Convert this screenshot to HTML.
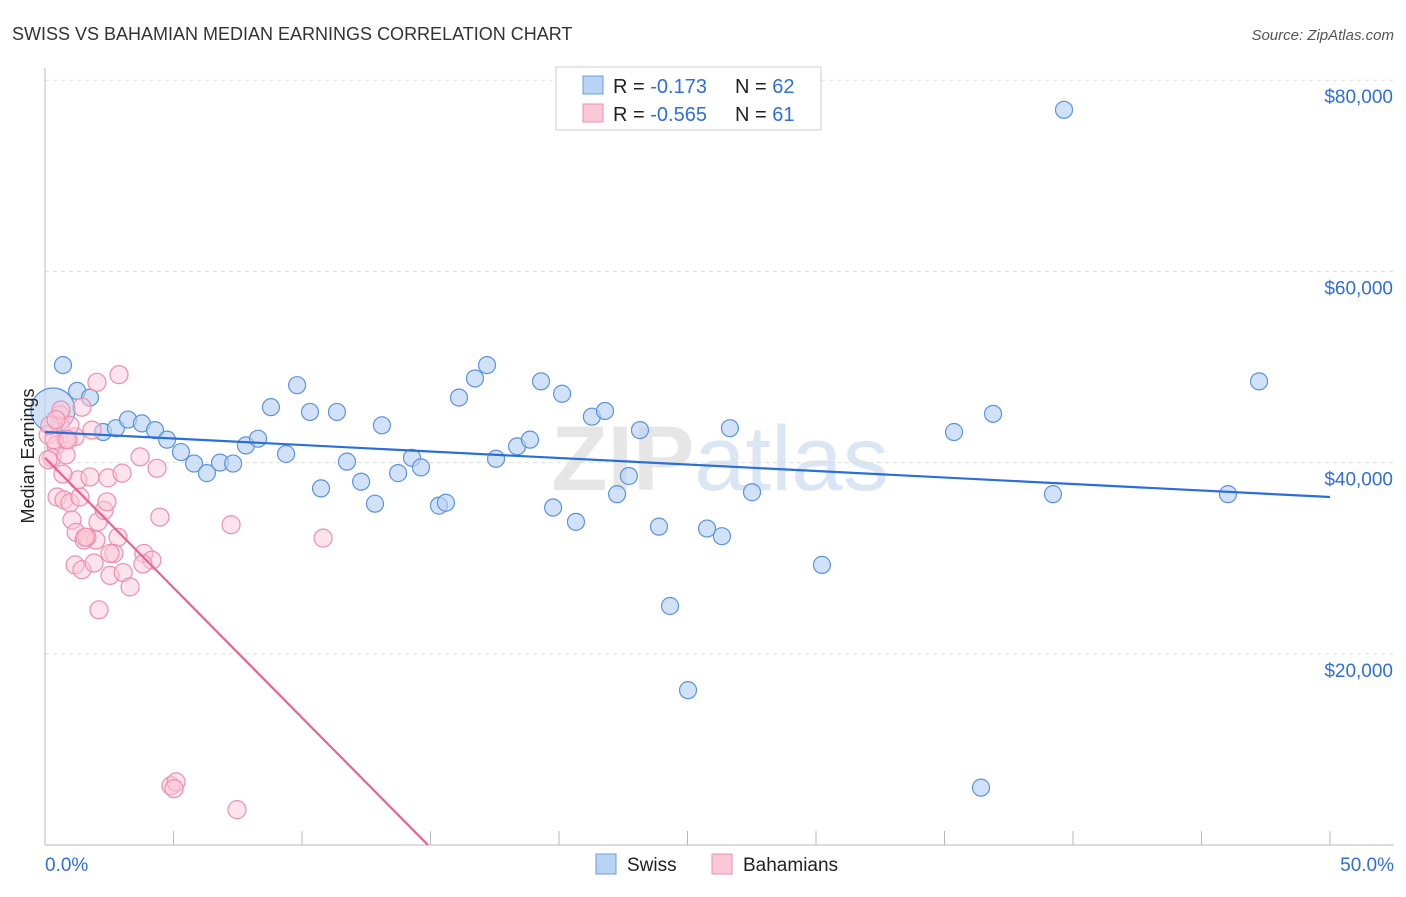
<!DOCTYPE html>
<html><head><meta charset="utf-8"><style>
body{margin:0;background:#fff;font-family:"Liberation Sans",sans-serif;}
svg text{font-family:"Liberation Sans",sans-serif;}
</style></head><body>
<svg id="chart" width="1406" height="892" xmlns="http://www.w3.org/2000/svg">
<text x="12" y="40" font-size="18" fill="#333">SWISS VS BAHAMIAN MEDIAN EARNINGS CORRELATION CHART</text>
<text x="1394" y="40" font-size="15" fill="#555" font-style="italic" text-anchor="end">Source: ZipAtlas.com</text>
<text x="720" y="490" font-size="92" fill="#e6e6e6" text-anchor="middle" font-weight="bold">ZIP<tspan fill="#dbe6f5" font-weight="normal">atlas</tspan></text>
<g id="grid"></g><g id="axes"></g><g id="marks"></g>
<text x="34" y="456" font-size="18" fill="#222" text-anchor="middle" transform="rotate(-90 34 456)">Median Earnings</text>
<g>
<rect x="556" y="67" width="265" height="63" fill="#fff" stroke="#ccc"/>
<rect x="583" y="76" width="20" height="18" fill="#b9d3f5" stroke="#6a9ee0"/>
<rect x="583" y="104" width="20" height="18" fill="#fbc8d7" stroke="#ec8fae"/>
<text x="613" y="93" font-size="20" fill="#222">R = <tspan fill="#2f6fd6">-0.173</tspan><tspan x="735">N = </tspan><tspan fill="#2f6fd6">62</tspan></text>
<text x="613" y="121" font-size="20" fill="#222">R = <tspan fill="#2f6fd6">-0.565</tspan><tspan x="735">N = </tspan><tspan fill="#2f6fd6"> 61</tspan></text>
</g>
<g>
<rect x="596" y="854" width="20" height="20" fill="#b9d3f5" stroke="#6a9ee0"/>
<text x="627" y="871" font-size="19" fill="#222">Swiss</text>
<rect x="712" y="854" width="20" height="20" fill="#fbc8d7" stroke="#ec8fae"/>
<text x="743" y="871" font-size="19" fill="#222">Bahamians</text>
</g>
<text x="45" y="871" font-size="19" fill="#2f6fd6">0.0%</text>
<text x="1394" y="871" font-size="19" fill="#2f6fd6" text-anchor="end">50.0%</text>
</svg>
<script>
const yTicks=[20000,40000,60000,80000];
const yTickLabels=["$20,000","$40,000","$60,000","$80,000"];
const swissX=[0.70,1.25,1.75,0.31,2.26,2.76,3.23,3.77,4.28,4.75,5.29,5.80,6.30,6.81,7.32,7.82,8.29,8.79,9.38,9.81,10.31,10.74,11.36,11.75,12.30,12.84,13.11,13.74,14.28,14.63,15.33,15.60,16.11,16.73,17.20,17.55,18.37,18.87,19.30,19.77,20.12,20.66,21.28,21.79,22.26,22.72,23.15,23.89,24.32,25.02,25.76,26.34,26.65,27.51,30.23,35.37,36.42,36.89,39.22,39.65,46.03,47.24];
const swissY=[50200,47500,46800,45500,43200,43600,44500,44100,43400,42400,41100,39900,38900,40000,39900,41800,42500,45800,40900,48100,45300,37300,45300,40100,38000,35700,43900,38900,40500,39500,35500,35800,46800,48800,50200,40400,41700,42400,48500,35300,47200,33800,44800,45400,36700,38600,43400,33300,25000,16200,33100,32300,43600,36900,29300,43200,6000,45100,36700,76900,36700,48500];
const bahX=[0.58,0.12,0.43,0.27,0.12,0.82,1.17,1.44,2.02,2.88,0.58,0.97,1.83,0.47,0.74,0.97,1.36,1.28,0.70,1.75,2.45,3.00,3.70,4.36,1.05,1.21,1.52,2.06,2.30,2.41,2.84,1.98,1.63,2.68,1.17,1.44,1.91,2.53,3.04,3.31,2.10,3.85,4.16,3.81,4.47,7.24,10.82,4.90,5.10,5.02,7.47,2.53,0.82,0.35,0.19,0.62,0.43,0.89,1.56];
const bahY=[45000,42900,41800,40500,40300,40800,42700,45800,48400,49200,43900,43900,43400,36400,36100,35800,36400,38200,38800,38500,38400,38900,40600,39400,34000,32700,31900,33800,35000,35900,32200,31900,32200,30500,29300,28800,29500,28200,28500,27000,24600,30500,29800,29400,34300,33500,32100,6200,6600,5900,3700,30500,42400,42400,43900,45500,44500,42400,32200];
const swissTrend=[43200,36400];
const bahTrend=[40500,0];
const bahTrendEndX=14.9;
const NS="http://www.w3.org/2000/svg";
const X=v=>45+v/50*1285, Y=v=>845-v/20000*191.2;
function mk(t,a,p){const e=document.createElementNS(NS,t);for(const k in a)e.setAttribute(k,a[k]);p.appendChild(e);return e;}
const grid=document.getElementById('grid'),axes=document.getElementById('axes'),marks=document.getElementById('marks');
yTicks.forEach((v,i)=>{
 const l=mk('line',{x1:45,x2:1394,y1:Y(v),y2:Y(v),stroke:'#ddd','stroke-dasharray':'4,4'},grid);
 
 
 const t=mk('text',{x:1393,y:Y(v)+23,'font-size':19,fill:'#2f6fd6','text-anchor':'end'},grid);
 t.textContent=yTickLabels[i];
 
 
});
mk('line',{x1:45,x2:45,y1:68,y2:845,stroke:'#bbb'},axes);
mk('line',{x1:45,x2:1394,y1:845,y2:845,stroke:'#bbb'},axes);
for(let i=1;i<=10;i++){const t=mk('line',{x1:X(i*5),x2:X(i*5),y1:831,y2:845,stroke:'#bbb'},axes);
 
 }
swissX.forEach((x,i)=>{const c=mk('circle',{cx:X(x),cy:Y(swissY[i]),r:i==3?22:8.5,fill:'#b9d3f5','fill-opacity':0.65,stroke:'#5b93dc','stroke-width':1.2},marks);
 
 });
bahX.forEach((x,i)=>{const c=mk('circle',{cx:X(x),cy:Y(bahY[i]),r:9,fill:'#fbc8d7','fill-opacity':0.5,stroke:'#ec8fae','stroke-width':1.2},marks);
 
 });
const l1=mk('line',{x1:X(0),y1:Y(swissTrend[0]),x2:X(50),y2:Y(swissTrend[1]),stroke:'#2a6fd6','stroke-width':2.2},marks);


const l2=mk('line',{x1:X(0),y1:Y(bahTrend[0]),x2:X(bahTrendEndX),y2:Y(bahTrend[1]),stroke:'#e8648f','stroke-width':2.2},marks);


</script>
</body></html>
